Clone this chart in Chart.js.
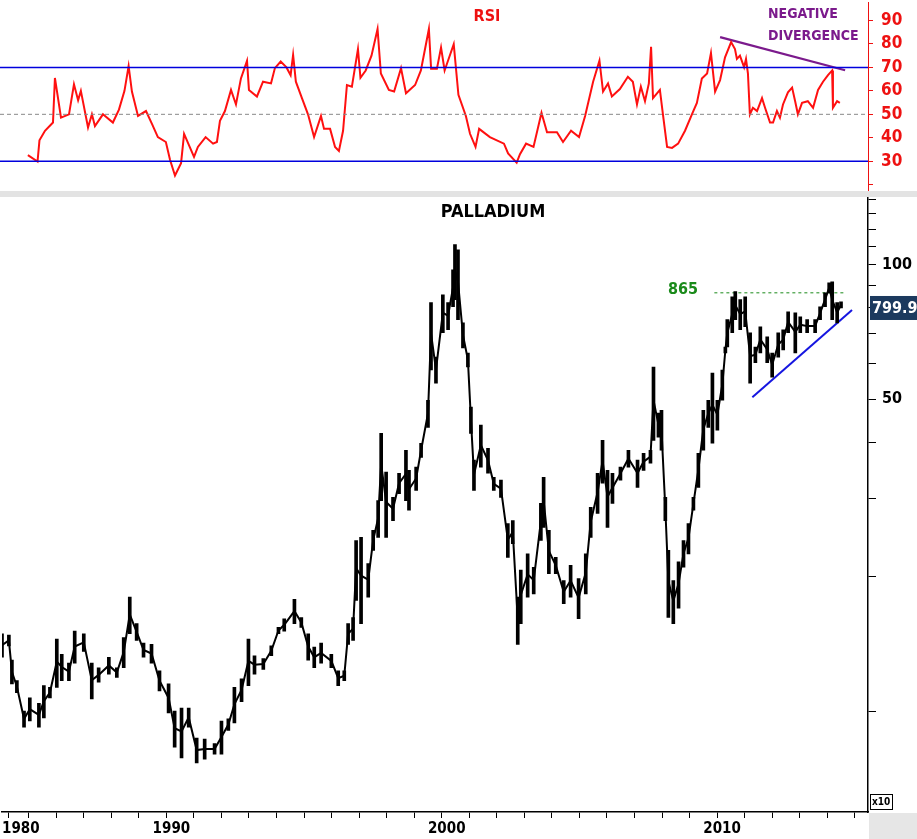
<!DOCTYPE html>
<html>
<head>
<meta charset="utf-8">
<script src="https://cdn.jsdelivr.net/npm/chart.js@4.4.1/dist/chart.umd.min.js"></script>
<style>
body{margin:0;background:#fff;width:917px;height:839px;overflow:hidden;position:relative;font-family:"DejaVu Sans Condensed","DejaVu Sans",sans-serif}
#rsiBox{position:absolute;left:0;top:-16px;width:917px;height:225px;z-index:1}
#sep{position:absolute;left:0;top:191px;width:917px;height:6px;background:#e3e3e3;z-index:3}
#pxBox{position:absolute;left:0;top:181px;width:917px;height:658px;z-index:2}
</style>
</head>
<body>
<div id="rsiBox"><canvas id="rsi"></canvas></div>
<div id="sep"></div>
<div id="pxBox"><canvas id="px"></canvas></div>
<script>
// time axis in decimal years
const x_min = 1984.53, x_max = 2015.98;

// RSI (14) line
const rsi_t = [1985.54,1985.89,1985.96,1986.16,1986.45,1986.52,1986.74,1987.03,1987.21,1987.36,1987.46,1987.72,1987.86,1987.97,1988.26,1988.62,1988.84,1989.04,1989.19,1989.31,1989.53,1989.82,1990.04,1990.25,1990.54,1990.69,1990.87,1991.09,1991.20,1991.56,1991.70,1991.98,1992.25,1992.39,1992.50,1992.68,1992.90,1993.08,1993.26,1993.48,1993.55,1993.84,1994.06,1994.35,1994.49,1994.70,1994.91,1995.06,1995.15,1995.25,1995.47,1995.69,1995.91,1996.16,1996.27,1996.49,1996.67,1996.81,1996.96,1997.10,1997.28,1997.50,1997.59,1997.78,1997.99,1998.21,1998.33,1998.62,1998.81,1999.06,1999.24,1999.57,1999.78,2000.07,2000.15,2000.36,2000.51,2000.64,2000.97,2001.14,2001.41,2001.56,2001.76,2001.89,2002.28,2002.79,2002.94,2003.25,2003.37,2003.59,2003.86,2004.15,2004.35,2004.71,2004.93,2005.22,2005.51,2005.73,2006.02,2006.25,2006.38,2006.56,2006.70,2006.99,2007.28,2007.46,2007.61,2007.75,2007.90,2008.04,2008.12,2008.19,2008.44,2008.55,2008.70,2008.88,2009.10,2009.35,2009.60,2009.78,2009.96,2010.15,2010.29,2010.44,2010.62,2010.80,2011.02,2011.16,2011.23,2011.34,2011.49,2011.56,2011.63,2011.70,2011.81,2011.96,2012.14,2012.25,2012.43,2012.54,2012.68,2012.79,2012.90,2013.08,2013.23,2013.34,2013.44,2013.59,2013.80,2013.99,2014.17,2014.35,2014.53,2014.68,2014.71,2014.86,2014.96];
const rsi_v = [32.6,29.9,38.9,43,46.5,65.5,48.6,50,62.8,56,60,44.4,50,45,50,46.5,52,60,70.6,59.7,49.3,51.4,45.8,40.3,38.2,30.6,23.9,29.2,41.7,31.9,36.1,40.3,37.5,38.2,47.2,51.4,60.4,54.2,65.3,72.8,60.4,57.6,63.9,63.2,69.7,72.5,70,66.7,75.3,63.9,56.9,50,40.3,49.3,43.8,43.8,36.1,34.4,43,62.5,61.8,77.8,65.6,68.7,75,86.4,67.4,60.4,59.7,69.7,59,62.5,68.7,86.4,69.4,69.4,78.5,68.7,79.9,58.3,49.3,41.7,36.1,43.8,40.3,37.5,33.3,29.4,33,37.5,36.1,50.7,42.4,42.4,38.2,43,40.3,49.3,63.9,72.9,59.7,63.2,57.6,60.8,66,63.9,54.2,61.8,55.6,63.2,78.8,56.9,60.4,50,36.1,35.7,37.5,43,50,54.9,65.3,67.4,76.1,59.7,64.6,74.3,80.8,77.8,73.6,75,70.1,73.6,67.4,50,52.8,51.4,56.9,52.8,46.5,46.5,51.4,48.6,54.2,59.4,61.4,55.6,50,54.9,55.6,52.8,60.4,63.9,66.7,68.7,52.8,55.6,54.9];
const rsi_ticks = [20,25,30,35,40,45,50,55,60,65,70,75,80,85,90,95];
const div_t = [2010.62,2015.15];
const div_v = [82.9,68.8];

// palladium price bars, US$ per ounce
const px_t = [1984.53,1984.78,1984.89,1985.07,1985.33,1985.54,1985.87,1986.05,1986.27,1986.52,1986.70,1986.96,1987.17,1987.50,1987.79,1988.04,1988.41,1988.70,1988.95,1989.17,1989.42,1989.67,1989.96,1990.25,1990.58,1990.80,1991.05,1991.31,1991.60,1991.89,1992.25,1992.50,1992.75,1992.97,1993.23,1993.48,1993.70,1994.02,1994.31,1994.57,1994.78,1995.15,1995.40,1995.65,1995.87,1996.12,1996.49,1996.74,1996.96,1997.10,1997.28,1997.39,1997.57,1997.83,1998.01,1998.19,1998.30,1998.48,1998.73,1998.95,1999.20,1999.31,1999.57,1999.75,2000.00,2000.11,2000.29,2000.54,2000.73,2000.91,2000.98,2001.09,2001.27,2001.45,2001.56,2001.67,2001.92,2002.18,2002.39,2002.65,2002.90,2003.08,2003.26,2003.37,2003.62,2003.84,2004.10,2004.20,2004.39,2004.64,2004.93,2005.18,2005.47,2005.73,2005.91,2006.16,2006.34,2006.52,2006.70,2006.99,2007.28,2007.61,2007.83,2008.08,2008.19,2008.37,2008.48,2008.62,2008.73,2008.91,2009.10,2009.28,2009.46,2009.64,2009.82,2010.00,2010.18,2010.33,2010.51,2010.69,2010.80,2010.87,2011.05,2011.16,2011.34,2011.52,2011.70,2011.89,2012.07,2012.32,2012.50,2012.72,2012.90,2013.08,2013.34,2013.52,2013.77,2014.06,2014.24,2014.42,2014.57,2014.68,2014.86,2015.00];
const px_lo = [132,140,115,110,92,95,92,96.5,107,113,117,117,128,136,106.5,116,121,119,125,149,144,132,128,111,99,83,78.5,92,76.5,78,80,80,90.5,94,105,114,121,124,133,149,151,157,154,130,125,128,125,114,117,141,144,177,157,180,229,245,296,245,267,307,296,282,312,370,432,581,543,704,715,805,835,753,651,590,419,312,352,341,312,301,221,237,141,157,180,183,241,258,203,203,174,180,161,183,245,277,324,258,292,329,352,317,346,359,404,411,384,267,162,157,170,210,225,282,317,384,432,398,426,497,634,654,704,753,715,726,543,603,634,603,560,621,644,704,634,704,704,704,753,805,865,753,741,800];
const px_hi = [149,148,130,117,100,107,104,114,113,145,134,128,151,149,128,125,132,125,146,180,157,142,141,123,115,100,101.5,101.5,87,86.5,84.5,95,96,113,118,145,133,131,140,154,161,178,162,149,139,142,134,123,123,157,162,241,245,214,254,296,419,343,301,341,384,346,352,398,497,822,621,856,822,974,1109,1080,741,634,480,365,437,388,334,329,263,267,180,207,225,210,292,334,254,221,196,212,198,225,286,341,404,346,341,352,384,365,378,384,590,465,472,301,229,196,216,241,263,301,378,472,497,572,497,581,654,753,847,870,835,847,704,654,726,689,634,704,715,784,780,764,753,753,805,865,911,916,822,826];
const px_ticks = [100,200,300,400,500,600,700,800,900,1000,1100,1200,1300,1400];
const last_price = 799.9;
const resist = 865;
const resist_t = [2010.4,2015.15];
const trend_t = [2011.78,2015.40];
const trend_v = [505,792];

const ref_t = [x_min, x_max];
const axisW = 49;
const FONT = '"DejaVu Sans Condensed","DejaVu Sans",sans-serif';
const bold = (s) => ({family:FONT, size:s, weight:'bold'});
const pts = (t, v) => t.map((x, i) => ({x:x, y:v[i]}));

const rsiText = {
  id:'rsiText',
  afterDraw(c){
    const g = c.ctx;
    g.save();
    g.textBaseline = 'middle';
    g.font = 'bold 16px ' + FONT;
    g.fillStyle = '#ee1111'; g.textAlign = 'center';
    g.fillText('RSI', 487, 33);
    g.font = 'bold 14px ' + FONT;
    g.fillStyle = '#7b1a8c'; g.textAlign = 'left';
    g.fillText('NEGATIVE', 768, 30);
    g.fillText('DIVERGENCE', 768, 52);
    g.restore();
  }
};

new Chart(document.getElementById('rsi'), {
  type:'line',
  data:{datasets:[
    {data:pts(ref_t,[70,70]), borderColor:'#0000dd', borderWidth:1.5, pointRadius:0},
    {data:pts(ref_t,[30,30]), borderColor:'#0000dd', borderWidth:1.5, pointRadius:0},
    {data:pts(ref_t,[50,50]), borderColor:'#888', borderWidth:1, borderDash:[4,3], pointRadius:0},
    {data:pts(rsi_t,rsi_v), borderColor:'#ff1010', borderWidth:2, pointRadius:0},
    {data:pts(div_t,div_v), borderColor:'#7b1a8c', borderWidth:2.2, pointRadius:0}
  ]},
  options:{
    responsive:true, maintainAspectRatio:false, animation:false,
    layout:{padding:0},
    plugins:{legend:{display:false}, tooltip:{enabled:false}},
    scales:{
      x:{type:'linear', min:x_min, max:x_max, display:false},
      y:{position:'right', min:17.4, max:97.8,
        afterFit(s){ s.width = axisW; },
        afterBuildTicks(s){ s.ticks = rsi_ticks.map(v => ({value:v})); },
        border:{color:'#ee1111', width:1},
        grid:{drawOnChartArea:false, color:'#ee1111', tickLength:5},
        ticks:{color:'#ee1111', font:bold(17), padding:8,
          callback:(v) => (v % 10 === 0 && v >= 30) ? String(v) : ''}
      }
    }
  },
  plugins:[rsiText]
});

const pxText = {
  id:'pxText',
  afterDraw(c){
    const g = c.ctx, y = c.scales.y, a = c.chartArea;
    g.save();
    g.textBaseline = 'middle';
    g.font = 'bold 18px ' + FONT;
    g.fillStyle = '#000'; g.textAlign = 'center';
    g.fillText('PALLADIUM', 493, a.top + 16);
    const ry = y.getPixelForValue(resist);
    g.font = 'bold 16px ' + FONT;
    g.fillStyle = '#1a8a1a'; g.textAlign = 'left';
    g.fillText(String(resist), 668, ry - 3);
    // last price box
    const ly = y.getPixelForValue(last_price);
    g.fillStyle = '#1c3a5e';
    g.fillRect(a.right + 2, ly - 12, 60, 24);
    g.fillStyle = '#fff'; g.font = 'bold 16px ' + FONT;
    g.fillText(String(last_price), a.right + 4, ly + 1);
    // x10 marker
    g.strokeStyle = '#000'; g.lineWidth = 1;
    g.fillStyle = '#fff';
    g.fillRect(a.right + 2.5, a.bottom - 17.5, 22, 15);
    g.strokeRect(a.right + 2.5, a.bottom - 17.5, 22, 15);
    g.fillStyle = '#000'; g.font = 'bold 10px ' + FONT;
    g.fillText('x10', a.right + 4, a.bottom - 10);
    g.fillStyle = '#e6e6e6';
    g.fillRect(a.right + 1, a.bottom + 1, 60, 40);
    g.restore();
  }
};

new Chart(document.getElementById('px'), {
  data:{datasets:[
    {type:'bar', data:px_t.map((x, i) => ({x:x, y:[px_lo[i], px_hi[i]]})), backgroundColor:'#000', barThickness:3},
    {type:'line', data:pts(px_t, px_t.map((_, i) => (px_lo[i] + px_hi[i]) / 2)), borderColor:'#000', borderWidth:2, pointRadius:0},
    {type:'line', data:pts(resist_t,[resist,resist]), borderColor:'#1a8a1a', borderWidth:1, borderDash:[3,3], pointRadius:0},
    {type:'line', data:pts(trend_t,trend_v), borderColor:'#1515e0', borderWidth:2, pointRadius:0}
  ]},
  options:{
    responsive:true, maintainAspectRatio:false, animation:false,
    layout:{padding:0},
    plugins:{legend:{display:false}, tooltip:{enabled:false}},
    scales:{
      x:{type:'linear', min:x_min, max:x_max, offset:false,
        afterFit(s){ s.height = 27; },
        afterBuildTicks(s){
          const t = [{value:x_min}];
          for (let yr = 1985; yr <= 2015; yr++) t.push({value:yr});
          s.ticks = t;
        },
        border:{color:'#000', width:1.5},
        grid:{drawOnChartArea:false, color:'#000', tickLength:6},
        ticks:{color:'#000', font:bold(15), align:'start', padding:2, maxRotation:0, autoSkip:false,
          callback:(v) => v === x_min ? '1980' : (v % 10 === 0 ? String(v) : '')}
      },
      y:{type:'logarithmic', position:'right', min:59.4, max:1421,
        afterFit(s){ s.width = axisW; },
        afterBuildTicks(s){ s.ticks = px_ticks.map(v => ({value:v})); },
        border:{color:'#000', width:1.5},
        grid:{drawOnChartArea:false, color:'#000', tickLength:8},
        ticks:{color:'#000', font:bold(16), padding:6,
          callback:(v) => v === 1000 ? '100' : (v === 500 ? '50' : '')}
      }
    }
  },
  plugins:[pxText]
});
</script>
</body>
</html>
